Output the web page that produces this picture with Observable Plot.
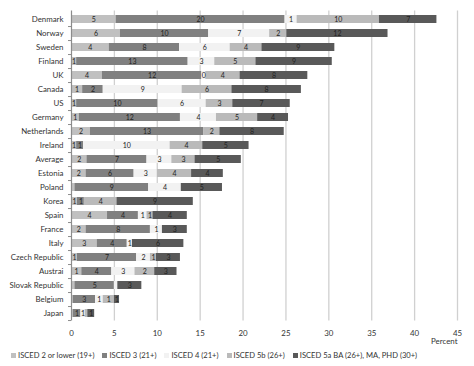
<!DOCTYPE html>
<html>
<head>
<meta charset="utf-8">
<script src="https://cdn.jsdelivr.net/npm/d3@7"></script>
<script src="https://cdn.jsdelivr.net/npm/@observablehq/plot@0.6"></script>
<style>
  body { margin: 0; background: #fff; font-family: Lato, "Open Sans", sans-serif; }
  #legend { display: flex; align-items: center; padding-left: 11px; height: 18px; font-size: 7.6px; color: #333; }
  #legend .item { display: flex; align-items: center; margin-right: 8px; }
  #legend .sw { width: 5px; height: 5px; margin-right: 2px; }
</style>
</head>
<body>
<div id="chart"></div>
<div id="legend"></div>
<script>
const countryList = ["Denmark","Norway","Sweden","Finland","UK","Canada","US","Germany","Netherlands","Ireland","Average","Estonia","Poland","Korea","Spain","France","Italy","Czech Republic","Austrai","Slovak Republic","Belgium","Japan"];
const seriesNames = ["ISCED 2 or lower (19+)","ISCED 3 (21+)","ISCED 4 (21+)","ISCED 5b (26+)","ISCED 5a BA (26+), MA, PHD (30+)"];
const seriesColors = ["#c0c0c0","#808080","#f2f2f2","#bababa","#595959"];
const isced2  = [5.2, 5.7, 4.4, 0.6, 3.6, 1.3, 0.6, 0.9, 2.2, 0.6, 1.8, 1.7, 0.4, 0.7, 4.2, 1.7, 3.0, 0.7, 1.2, 0.4, 0.2, 0.2];
const isced3  = [19.7, 10.3, 8.2, 13.0, 11.6, 2.4, 9.5, 11.8, 13.2, 0.8, 7.0, 5.6, 8.6, 0.8, 3.6, 7.5, 3.5, 6.9, 3.5, 4.6, 2.6, 0.9];
const isced4  = [1.4, 7.1, 5.9, 3.1, 0.45, 9.2, 5.6, 4.2, 0, 10.1, 2.9, 2.7, 3.8, 0, 1.0, 1.4, 0.6, 1.6, 2.7, 0.4, 0.9, 0.5];
const isced5b = [9.6, 2.0, 3.7, 4.8, 4.0, 5.8, 3.1, 4.8, 1.9, 3.8, 2.7, 4.0, 0, 3.8, 0.7, 0, 0, 0.7, 2.3, 0, 1.3, 0.3];
const isced5a = [6.7, 11.8, 8.5, 8.9, 7.9, 8.1, 6.7, 3.6, 7.5, 5.4, 5.4, 3.7, 4.8, 8.9, 4.0, 2.9, 6.0, 2.8, 2.6, 2.8, 0.6, 0.8];
const xTicks = [0, 5, 10, 15, 20, 25, 30, 35, 40, 45];

const seriesValues = [isced2, isced3, isced4, isced5b, isced5a];
const rows = [];
countryList.forEach((c, i) => {
  seriesNames.forEach((s, j) => {
    rows.push({country: c, series: s, value: seriesValues[j][i]});
  });
});

const height = 346;
const marginTop = 10.6;
const marginBottom = 25.6;
const step = (height - marginTop - marginBottom) / countryList.length;

const plot = Plot.plot({
  width: 474,
  height,
  marginLeft: 71,
  marginRight: 17,
  marginTop,
  marginBottom,
  style: {fontFamily: "Lato, 'Open Sans', sans-serif", fontSize: "7.7px", color: "#333", background: "#fff"},
  x: {domain: [0, 45]},
  y: {domain: countryList, paddingInner: 0.45, paddingOuter: 0.225},
  color: {domain: seriesNames, range: seriesColors},
  marks: [
    Plot.gridX(xTicks.filter(d => d > 0), {stroke: "#d0d0d0", strokeOpacity: 1, strokeWidth: 1.3}),
    Plot.barX(rows, Plot.stackX({x: "value", y: "country", z: "series", fill: "series", order: seriesNames})),
    Plot.text(rows, Plot.stackX({x: "value", y: "country", z: "series", order: seriesNames,
      text: d => d.value >= 0.45 ? String(Math.round(d.value)) : "", fill: "#222", fontSize: 7})),
    Plot.ruleX([0], {stroke: "#8c8c8c", strokeWidth: 1.2}),
    Plot.axisY({tickSize: 0, tickPadding: 8, label: null, fill: "#333", fontSize: 7.9}),
    Plot.axisY({tickSize: 3, text: null, label: null, dy: step / 2, stroke: "#8c8c8c"}),
    Plot.axisX({ticks: xTicks, tickSize: 0, tickPadding: 9, label: null, fill: "#333", fontSize: 7.9}),
    Plot.text(["Percent"], {frameAnchor: "bottom-right", dy: 23.5, textAnchor: "end", fill: "#333", fontSize: 7.9})
  ]
});
document.getElementById("chart").appendChild(plot);

const legend = document.getElementById("legend");
seriesNames.forEach((s, j) => {
  const item = document.createElement("div");
  item.className = "item";
  const sw = document.createElement("span");
  sw.className = "sw";
  sw.style.background = seriesColors[j];
  const t = document.createElement("span");
  t.textContent = s;
  item.appendChild(sw);
  item.appendChild(t);
  legend.appendChild(item);
});
</script>
</body>
</html>
